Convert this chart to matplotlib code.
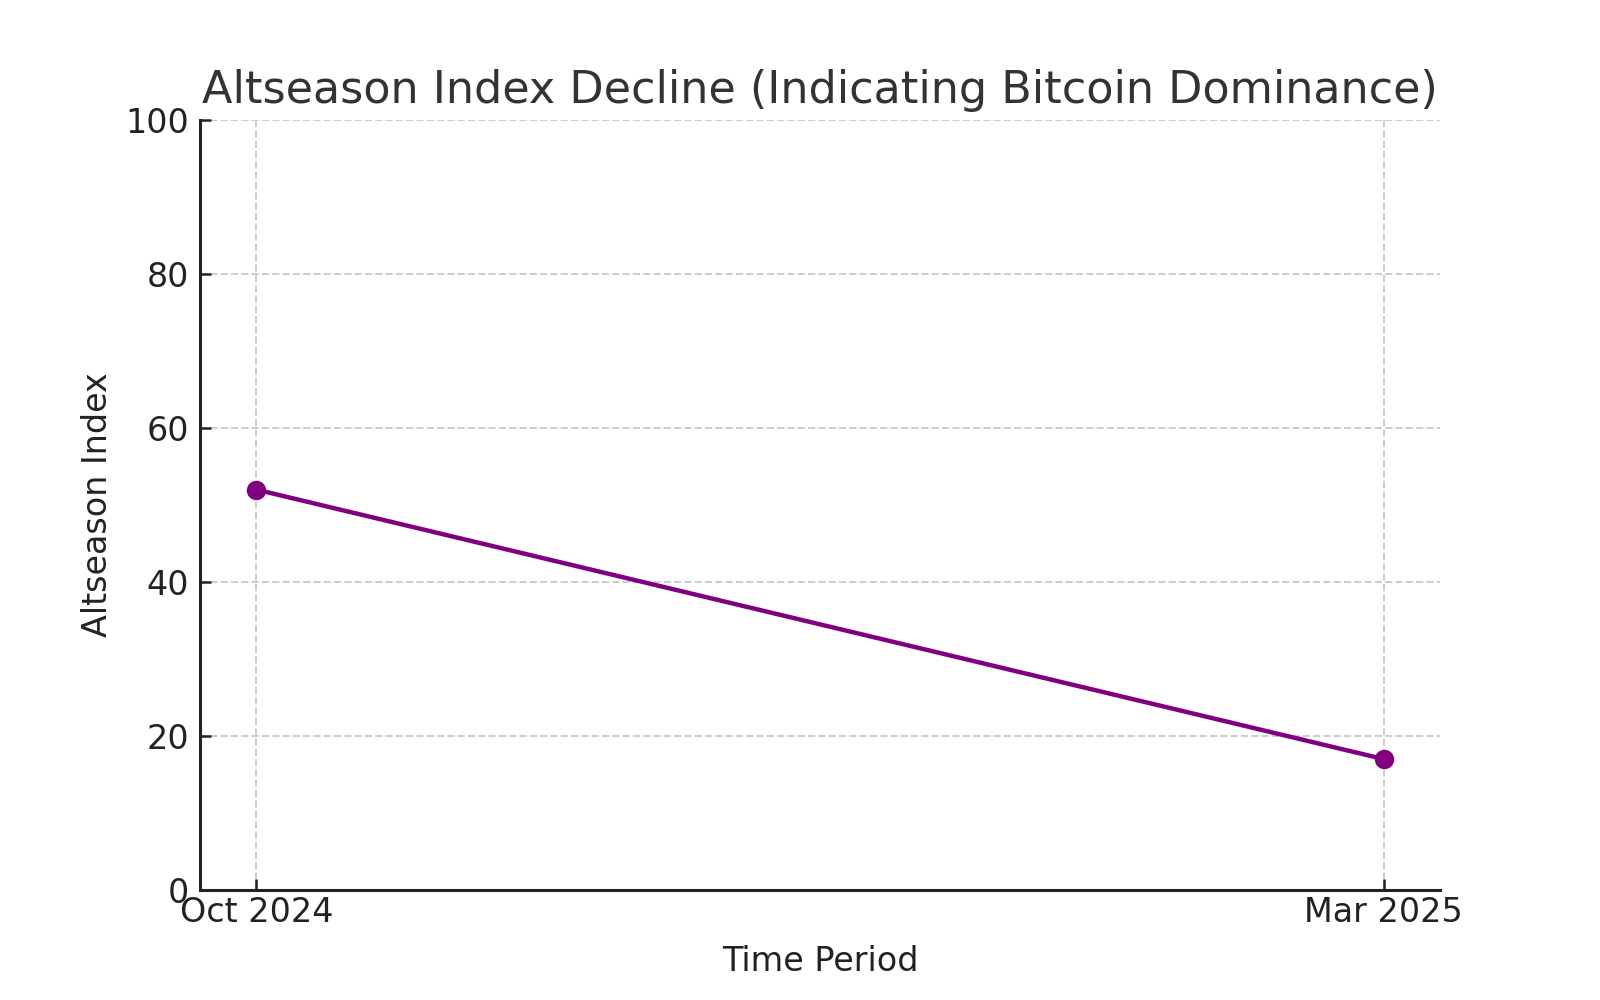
import matplotlib
matplotlib.use("Agg")
import matplotlib.pyplot as plt

periods = ["Oct 2024", "Mar 2025"]
index_values = [52, 17]

plt.rcParams["font.family"] = ["DejaVu Sans"]

fig, ax = plt.subplots(figsize=(8, 5), dpi=200)

ax.plot(range(len(periods)), index_values, color="purple", linewidth=1.6,
        marker="o", markersize=6, zorder=3)

ax.set_xticks(range(len(periods)))
ax.set_xticklabels(periods)
ax.set_ylim(0, 100)

ax.set_title("Altseason Index Decline (Indicating Bitcoin Dominance)",
             fontsize=16, color="#333333", pad=6)
ax.set_xlabel("Time Period", fontsize=12, color="#222222", labelpad=6)
ax.set_ylabel("Altseason Index", fontsize=12, color="#222222", labelpad=4)

ax.grid(True, linestyle="--", color="#cccccc", linewidth=0.7)
ax.set_axisbelow(True)

for side in ("top", "right"):
    ax.spines[side].set_visible(False)
for side in ("left", "bottom"):
    ax.spines[side].set_color("#222222")
    ax.spines[side].set_linewidth(1.1)

ax.tick_params(direction="in", length=4, width=0.9, colors="#222222",
               labelsize=12, pad=2)
ax.tick_params(axis="y", pad=4)

fig.savefig("out.png", dpi=200, facecolor="white")
